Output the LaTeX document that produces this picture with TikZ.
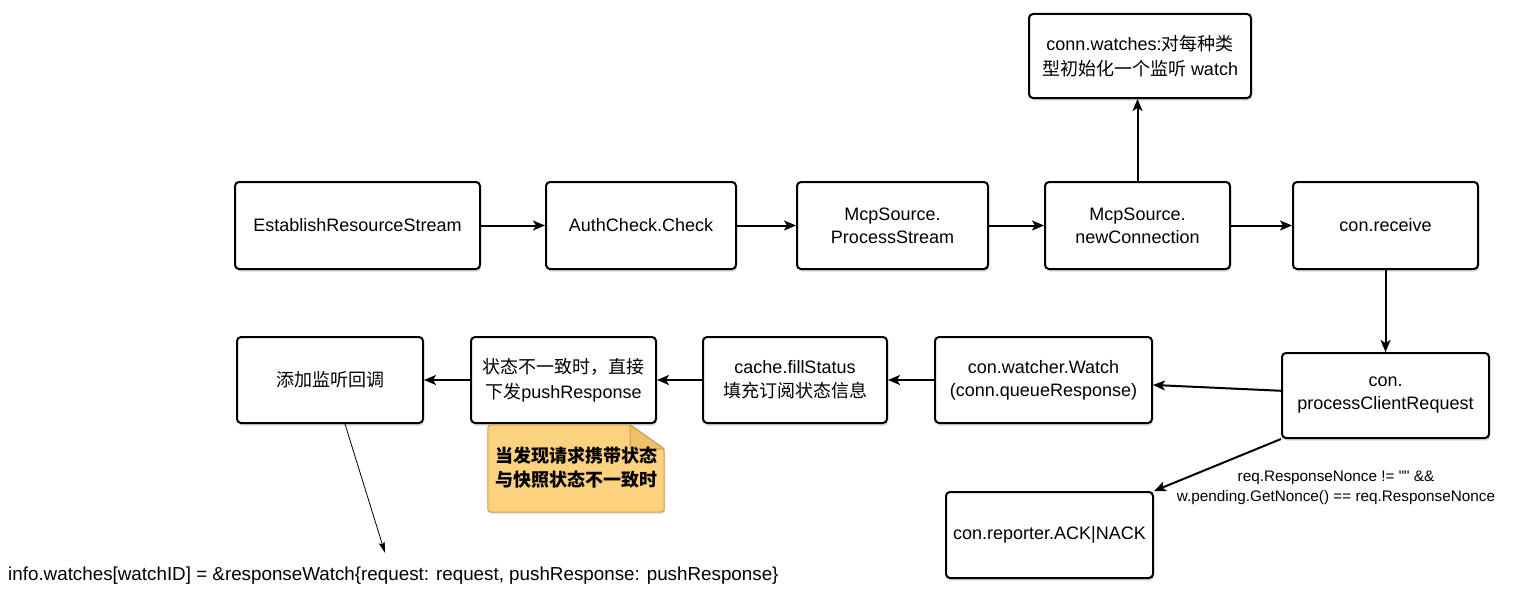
\documentclass[tikz,border=0pt]{standalone}
\usepackage{fontspec}
\setmainfont{Liberation Sans}
\newfontfamily\plainsans{Liberation Sans}[Ligatures=TeXOff]
\newfontfamily\cjk{Noto Sans CJK SC}
\usetikzlibrary{arrows.meta,shadows}
\definecolor{notefill}{HTML}{FDD27F}
\definecolor{noteedge}{HTML}{C9A04E}
\definecolor{notefold}{HTML}{EDC06A}
\begin{document}
\begin{tikzpicture}[x=1pt,y=-1pt,
  box/.style={draw=black, line width=2pt, rounded corners=4pt, fill=white,
    drop shadow={opacity=0.3,shadow xshift=1pt,shadow yshift=-2.5pt},
    align=center, font=\fontsize{18}{23}\selectfont, inner sep=0pt},
  flow/.style={line width=2pt, -{Stealth[length=12pt,width=10pt,inset=3pt]}},
  thinflow/.style={line width=0.8pt, -{Stealth[length=11pt,width=6pt,inset=2pt]}},
  lbl/.style={align=center, font=\plainsans\fontsize{15.3}{20.5}\selectfont, inner sep=0pt},
]
\useasboundingbox (0,0) rectangle (1520,602);

% row 1
\node[box, minimum width=245pt, minimum height=87pt] (ers) at (357.5,225.5) {EstablishResourceStream};
\node[box, minimum width=190pt, minimum height=87pt] (auth) at (641,225.5) {AuthCheck.Check};
\node[box, minimum width=191pt, minimum height=87pt] (proc) at (892.5,225.5) {McpSource.\\ProcessStream};
\node[box, minimum width=185pt, minimum height=87pt] (newc) at (1137.5,225.5) {McpSource.\\newConnection};
\node[box, minimum width=185pt, minimum height=87pt] (recv) at (1385.5,225.5) {con.receive};
\node[box, minimum width=222pt, minimum height=84pt, font=\fontsize{18}{25}\selectfont] (top) at (1140,56)
  {conn.watches:{\cjk 对每种类}\\{\cjk 型初始化一个监听} watch};

% row 2
\node[box, minimum width=207pt, minimum height=85pt] (pcr) at (1385.5,395.5) {con.\\processClientRequest};
\node[box, minimum width=217pt, minimum height=86pt] (watch) at (1043.5,380) {con.watcher.Watch\\(conn.queueResponse)};
\node[box, minimum width=184pt, minimum height=86pt, font=\fontsize{18}{24}\selectfont] (fill) at (795,380) {cache.fillStatus\\{\cjk 填充订阅状态信息}};
\node[box, minimum width=185pt, minimum height=86pt, font=\fontsize{18}{25}\selectfont] (push) at (563.5,380) {{\cjk 状态不一致时，直接}\\{\cjk 下发}pushResponse};
\node[box, minimum width=186pt, minimum height=86pt] (add) at (330,380) {\cjk 添加监听回调};
\node[box, minimum width=207pt, minimum height=86pt] (ack) at (1049.5,535) {con.reporter.ACK|NACK};

% note
\node[minimum width=176pt, minimum height=87pt, inner sep=0pt] (note) at (576,468.5) {};
\draw[fill=notefill, draw=noteedge, line width=1pt, rounded corners=3pt,
      drop shadow={opacity=0.2,shadow xshift=1pt,shadow yshift=-2pt}]
  (note.north west) -- ([xshift=-34pt]note.north east) -- ([yshift=-24pt]note.north east)
  -- (note.south east) -- (note.south west) -- cycle;
\draw[fill=notefold, draw=noteedge, line width=1pt, line join=round]
  ([xshift=-34pt]note.north east) -- ([xshift=-34pt,yshift=-24pt]note.north east)
  -- ([yshift=-24pt]note.north east) -- cycle;
\node[align=center, font=\fontsize{18}{24}\selectfont\cjk\bfseries, inner sep=0pt] (notetext) at (576,468)
  {当发现请求携带状态\\与快照状态不一致时};

% bottom text
\node[font=\fontsize{18.8}{22}\selectfont, inner sep=0pt, anchor=west] (info) at (8,576)
  {info.watches[watchID] = \&responseWatch\{request: request, pushResponse: pushResponse\}};
\coordinate (infotip) at (385,553);

% label
\node[lbl] (cond) at (1336,488) {req.ResponseNonce != "" \&\&\\w.pending.GetNonce() == req.ResponseNonce};

% connectors
\draw[flow] (ers) -- (auth);
\draw[flow] (auth) -- (proc);
\draw[flow] (proc) -- (newc);
\draw[flow] (newc) -- (recv);
\draw[flow] (newc.north) -- (newc.north |- top.south);
\draw[flow] (recv) -- (pcr);
\draw[flow] (pcr) -- (watch);
\draw[flow] (watch) -- (fill);
\draw[flow] (fill) -- (push);
\draw[flow] (push) -- (add);
\draw[flow] (pcr.south west) -- (ack.north east);
\draw[thinflow] ([xshift=15pt]add.south) -- (infotip);
\end{tikzpicture}
\end{document}
